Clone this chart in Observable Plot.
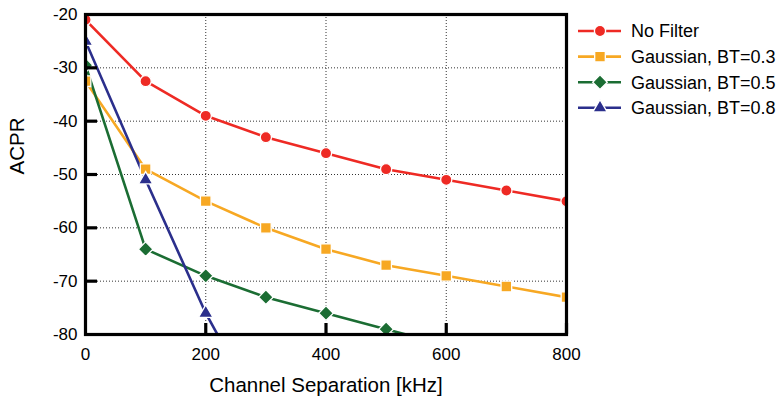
<!DOCTYPE html>
<html>
<head>
<meta charset="utf-8">
<script src="https://cdn.jsdelivr.net/npm/d3@7"></script>
<script src="https://cdn.jsdelivr.net/npm/@observablehq/plot@0.6"></script>
<style>
  html, body { margin: 0; padding: 0; background: #fff; }
  #wrap { position: relative; width: 780px; height: 404px; font-family: "Liberation Sans", Arial, sans-serif; }
  #legend { position: absolute; left: 570px; top: 14px; }
</style>
</head>
<body>
<div id="wrap"></div>
<script>
// ---- data ----
const separation = [0, 100, 200, 300, 400, 500, 600, 700, 800];
const noFilter   = [-21, -32.5, -39, -43, -46, -49, -51, -53, -55];
const gauss03    = [-32.5, -49, -55, -60, -64, -67, -69, -71, -73];
const gauss05    = [-29.5, -64, -69, -73, -76, -79, -82];
const gauss08    = [-25, -51, -76, -96.5];
const seriesNames = ["No Filter", "Gaussian, BT=0.3", "Gaussian, BT=0.5", "Gaussian, BT=0.8"];
const seriesColors = ["#ee2a24", "#f7a823", "#1b6d33", "#2b2f8c"];
const seriesSymbols = ["circle", "square", "diamond2", "triangle"];
const seriesR = [5.6, 6.0, 6.6, 5.3];
const xTicks = [0, 200, 400, 600, 800];
const yTicks = [-20, -30, -40, -50, -60, -70, -80];
const xInnerTicks = [200, 400, 600, 800];
const yInnerTicks = [-30, -40, -50, -60, -70];
const xLabel = "Channel Separation [kHz]";
const yLabel = "ACPR";

const allValues = [noFilter, gauss03, gauss05, gauss08];
const rows = [];
allValues.forEach((vals, si) => {
  vals.forEach((v, i) => rows.push({series: seriesNames[si], x: separation[i], y: v}));
});

const W = 780, H = 404, mL = 85, mR = 214, mT = 14, mB = 70;
const plotW = W - mL - mR, plotH = H - mT - mB;
const font = "'Liberation Sans', Arial, sans-serif";
const lineMarks = seriesNames.map((name, si) =>
  Plot.line(rows.filter(d => d.series === name), {x: "x", y: "y", stroke: seriesColors[si], strokeWidth: 2.6, clip: true})
);
const dotMarks = seriesNames.map((name, si) =>
  Plot.dot(rows.filter(d => d.series === name), {x: "x", y: "y", fill: seriesColors[si], symbol: () => seriesSymbols[si], r: seriesR[si], stroke: "white", strokeWidth: 1.3, clip: true})
);

const chart = Plot.plot({
  width: W,
  height: H,
  marginLeft: mL,
  marginRight: mR,
  marginTop: mT,
  marginBottom: mB,
  style: {fontFamily: font, fontSize: "17px", color: "black", background: "white", overflow: "visible"},
  x: {domain: [0, 800]},
  y: {domain: [-80, -20]},
  symbol: {type: "identity"},
  marks: [
    Plot.gridX({ticks: [200, 400, 600], stroke: "#333", strokeOpacity: 1, strokeWidth: 1, strokeDasharray: "1,2"}),
    Plot.gridY({ticks: yInnerTicks, stroke: "#333", strokeOpacity: 1, strokeWidth: 1, strokeDasharray: "1,2"}),
    ...lineMarks,
    ...dotMarks,
    Plot.axisX({ticks: xTicks, tickSize: 0, tickPadding: 13, fontSize: 17, tickFormat: d => String(d), label: null}),
    Plot.axisY({ticks: yTicks, tickSize: 0, tickPadding: 8, fontSize: 17, tickFormat: d => String(d), label: null}),
    Plot.ruleX(xInnerTicks, {x: d => d, insetTop: plotH - 11, stroke: "black", strokeWidth: 3.2}),
    Plot.ruleY(yInnerTicks, {y: d => d, insetRight: plotW - 12, stroke: "black", strokeWidth: 3.2}),
    Plot.frame({stroke: "black", strokeWidth: 3.2}),
    Plot.text([xLabel], {frameAnchor: "bottom", dy: 57, text: d => d, fontSize: 20.5}),
    Plot.text([yLabel], {frameAnchor: "left", dx: -68, rotate: -90, text: d => d, fontSize: 20.5})
  ]
});
const wrap = document.getElementById("wrap");
wrap.appendChild(chart);

// ---- legend ----
const leg = d3.select(wrap).append("svg").attr("id", "legend").attr("width", 210).attr("height", 120);
seriesNames.forEach((name, si) => {
  const g = leg.append("g").attr("transform", `translate(0, ${17 + si * 25.6})`);
  g.append("line").attr("x1", 8).attr("x2", 51).attr("y1", 0).attr("y2", 0)
    .attr("stroke", seriesColors[si]).attr("stroke-width", 2.6);
  const sym = {circle: d3.symbolCircle, square: d3.symbolSquare, diamond2: d3.symbolDiamond2, triangle: d3.symbolTriangle}[seriesSymbols[si]];
  g.append("path").attr("transform", "translate(30,0)")
    .attr("d", d3.symbol(sym, Math.PI * seriesR[si] * seriesR[si])())
    .attr("fill", seriesColors[si]).attr("stroke", "white").attr("stroke-width", 1.3);
  g.append("text").attr("x", 61).attr("y", 0).attr("dy", "0.35em")
    .attr("font-family", font).attr("font-size", 18).attr("fill", "black").text(name);
});
</script>
</body>
</html>
